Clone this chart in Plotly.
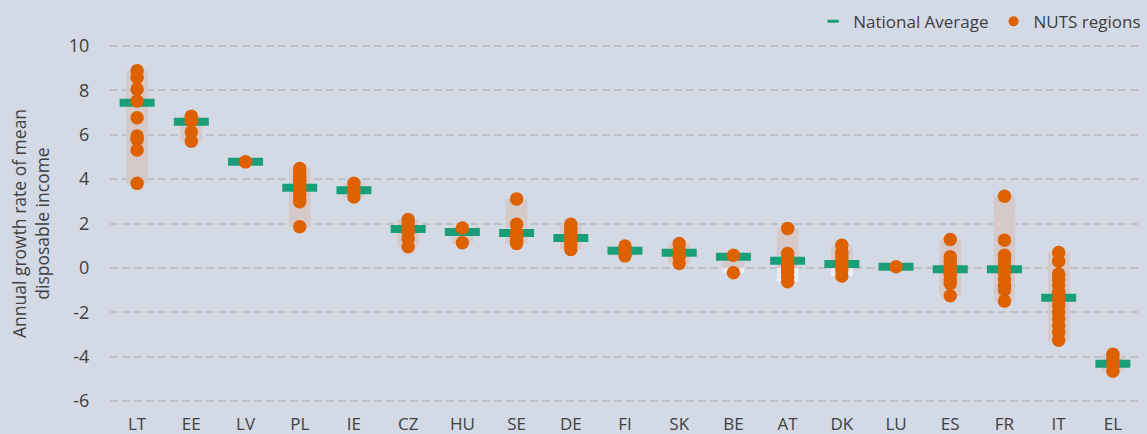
import plotly.graph_objects as go

countries = ["LT", "EE", "LV", "PL", "IE", "CZ", "HU", "SE", "DE", "FI",
             "SK", "BE", "AT", "DK", "LU", "ES", "FR", "IT", "EL"]

national_average = [7.44, 6.59, 4.78, 3.61, 3.50, 1.75, 1.62, 1.57, 1.35, 0.77,
                    0.68, 0.50, 0.32, 0.17, 0.05, -0.06, -0.06, -1.35, -4.33]

nuts_regions = [
    [8.89, 8.59, 8.06, 7.52, 6.77, 5.95, 5.80, 5.31, 3.81],           # LT
    [6.84, 6.62, 6.13, 5.71],                                          # EE
    [4.78],                                                            # LV
    [4.48, 4.30, 4.10, 3.90, 3.70, 3.50, 3.30, 3.10, 2.98, 1.85],      # PL
    [3.81, 3.50, 3.20],                                                # IE
    [2.18, 2.00, 1.80, 1.60, 1.31, 0.95],                              # CZ
    [1.80, 1.13],                                                      # HU
    [3.11, 1.97, 1.60, 1.40, 1.25, 1.10],                              # SE
    [1.97, 1.80, 1.60, 1.40, 1.20, 1.00, 0.83],                        # DE
    [0.99, 0.77, 0.54],                                                # FI
    [1.10, 0.80, 0.50, 0.20],                                          # SK
    [0.57, -0.22],                                                     # BE
    [1.78, 0.65, 0.40, 0.20, 0.00, -0.20, -0.40, -0.63],               # AT
    [1.02, 0.70, 0.50, 0.30, 0.10, -0.10, -0.37],                      # DK
    [0.05],                                                            # LU
    [1.28, 0.50, 0.30, 0.10, -0.10, -0.30, -0.50, -0.70, -1.26],       # ES
    [3.23, 1.25, 0.57, 0.38, 0.10, -0.20, -0.50, -0.80, -1.00, -1.50], # FR
    [0.69, 0.30, -0.28, -0.50, -0.78, -1.10, -1.40, -1.70, -2.00,
     -2.30, -2.60, -2.90, -3.26],                                      # IT
    [-3.90, -4.10, -4.35, -4.66],                                      # EL
]

# countries whose range bar shows a pale segment below zero
pale_below_zero = ["BE", "AT", "DK"]

y_ticks = [-6, -4, -2, 0, 2, 4, 6, 8, 10]

BG = "#D3DAE6"
ORANGE = "#DE6100"
GREEN = "#1A9E77"
RANGE_COL = "#D6C9C9"
TXT = "#404040"
FONT = "Open Sans"

# range bars
rng_lo, rng_hi = [], []
pale_x, pale_base, pale_len = [], [], []
for c, vals in zip(countries, nuts_regions):
    lo, hi = min(vals), max(vals)
    if c in pale_below_zero and lo < 0:
        pale_x.append(c)
        pale_base.append(lo)
        pale_len.append(-lo)
        lo = 0
    rng_lo.append(lo)
    rng_hi.append(hi)

pts_x, pts_y = [], []
for c, vals in zip(countries, nuts_regions):
    for v in vals:
        pts_x.append(c)
        pts_y.append(v)

fig = go.Figure()
fig.add_trace(go.Bar(x=countries, base=rng_lo, y=[h - l for h, l in zip(rng_hi, rng_lo)],
                     width=0.4, marker=dict(color=RANGE_COL, line=dict(width=0)),
                     showlegend=False, hoverinfo="skip"))
fig.add_trace(go.Bar(x=pale_x, base=pale_base, y=pale_len, width=0.4,
                     marker=dict(color="rgba(255,255,255,0.55)", line=dict(width=0)),
                     showlegend=False, hoverinfo="skip"))
fig.add_trace(go.Scatter(x=countries, y=national_average, mode="markers",
                         marker=dict(symbol="line-ew", size=25,
                                     line=dict(color=GREEN, width=8)),
                         name="National Average", showlegend=False))
fig.add_trace(go.Scatter(x=pts_x, y=pts_y, mode="markers",
                         marker=dict(color=ORANGE, size=13.5, line=dict(width=0)),
                         name="NUTS regions", showlegend=False))
# legend entries
fig.add_trace(go.Scatter(x=[None], y=[None], mode="markers", name="National Average",
                         marker=dict(symbol="line-ew", size=8,
                                     line=dict(color=GREEN, width=3))))
fig.add_trace(go.Scatter(x=[None], y=[None], mode="markers", name="NUTS regions",
                         marker=dict(color=ORANGE, size=10)))

fig.add_shape(type="line", xref="paper", x0=0, x1=1, yref="y", y0=0, y1=0,
              line=dict(color="#C8CCD3", width=2, dash="dot"), layer="below")

fig.update_layout(
    width=1147, height=434,
    paper_bgcolor=BG, plot_bgcolor=BG,
    margin=dict(l=110, r=7, t=44.9, b=32.2, autoexpand=False),
    barmode="overlay",
    font=dict(family=FONT, color=TXT, size=17),
    legend=dict(orientation="h", x=1.006, xanchor="right", y=1.065, yanchor="middle",
                font=dict(size=17, color=TXT), bgcolor="rgba(0,0,0,0)",
                itemsizing="trace", traceorder="normal"),
    xaxis=dict(type="category", range=[-0.5, 18.5], showgrid=False, zeroline=False,
               showline=False, ticks="outside", ticklen=7, tickcolor="rgba(0,0,0,0)",
               tickfont=dict(size=17, color=TXT), automargin=False),
    yaxis=dict(range=[-6.05, 10.05], tickvals=y_ticks, ticktext=[str(t) for t in y_ticks],
               showgrid=True, gridcolor="#BFC0C4", gridwidth=2, griddash="8px,4px",
               zeroline=False, showline=False, ticks="outside", ticklen=16,
               tickcolor="rgba(0,0,0,0)", tickfont=dict(size=18, color=TXT),
               automargin=False,
               title=dict(text="Annual growth rate of mean<br>disposable income",
                          font=dict(size=17.5, color=TXT), standoff=14)),
)

fig.write_html("out.html", config={"displayModeBar": False},
               post_script="document.body.style.margin='0px';")
